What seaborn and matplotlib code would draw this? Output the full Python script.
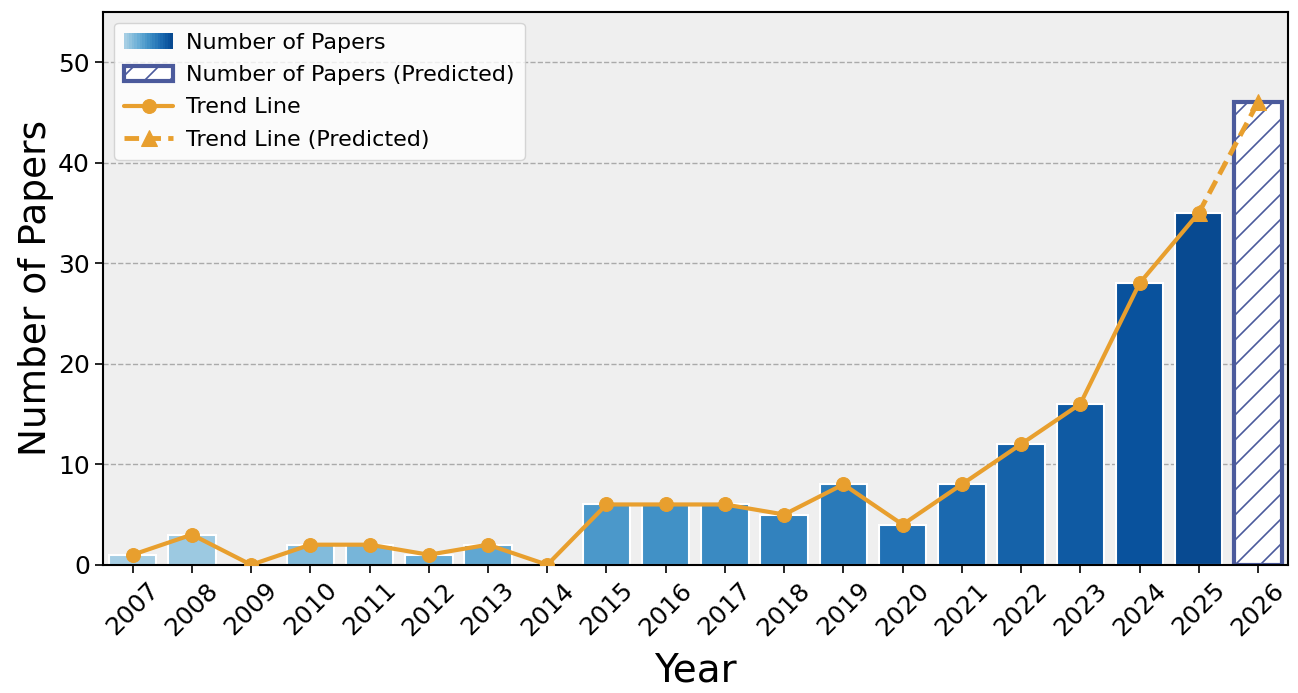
import numpy as np
import pandas as pd
import matplotlib
matplotlib.use("Agg")
import matplotlib.pyplot as plt
import seaborn as sns
from matplotlib.patches import Rectangle
from matplotlib.lines import Line2D
from matplotlib.legend_handler import HandlerBase

years = [str(y) for y in range(2007, 2026)]
papers = [1, 3, 0, 2, 2, 1, 2, 0, 6, 6, 6, 5, 8, 4, 8, 12, 16, 28, 35]
pred_year = "2026"
pred_value = 46

line_color = "#E89F2E"
pred_edge = "#4B5A9C"

DPI = 75
S = 100 / DPI  # point-size scale so the drawing matches a 100-dpi layout

sns.set_theme(style="ticks")
plt.rcParams['font.family'] = ['DejaVu Sans']
plt.rcParams['text.color'] = 'black'
plt.rcParams['hatch.color'] = pred_edge
plt.rcParams['hatch.linewidth'] = 1.2 * S

fig = plt.figure(figsize=(1298 / DPI, 693 / DPI), dpi=DPI)
ax = fig.add_axes([0.0794, 0.185, 0.9126, 0.798])
ax.set_facecolor("#EFEFEF")

cmap = plt.get_cmap("Blues")
colors = [cmap(v) for v in np.linspace(0.35, 0.9, len(years))]

all_years = years + [pred_year]
df = pd.DataFrame({"Year": years, "Papers": papers})
sns.barplot(data=df, x="Year", y="Papers", hue="Year", palette=colors, order=all_years,
            legend=False, width=0.8, edgecolor="white", linewidth=1.5 * S, saturation=1,
            ax=ax, zorder=2)

ax.bar([len(years)], [pred_value], width=0.8, facecolor="white", edgecolor=pred_edge,
       linewidth=3 * S, hatch="/", zorder=2)

x = np.arange(len(years))
ax.plot(x, papers, color=line_color, lw=3 * S, marker="o", ms=10 * S, zorder=4)
ax.plot([len(years) - 1, len(years)], [papers[-1], pred_value], color=line_color, lw=3.5 * S,
        ls=(0, (3, 1.5)), marker="^", ms=12 * S, zorder=4)

ax.set_xlim(-0.5, len(all_years) - 0.5)
ax.set_ylim(0, 55)
ax.set_yticks([0, 10, 20, 30, 40, 50])
ax.yaxis.grid(True, ls="--", color="#AAAAAA", lw=1 * S)
ax.set_axisbelow(True)
for s in ax.spines.values():
    s.set_color("black")
    s.set_linewidth(1.5 * S)
ax.tick_params(axis="both", labelsize=18 * S, color="black", width=1.2 * S, length=6 * S,
               pad=3.5 * S, labelcolor="black")
plt.setp(ax.get_xticklabels(), rotation=45, ha="center")
ax.set_xlabel("Year", fontsize=28 * S, color="black", labelpad=8 * S)
ax.set_ylabel("Number of Papers", fontsize=27 * S, color="black", labelpad=3 * S)


class GradientHandler(HandlerBase):
    def __init__(self, cols):
        super().__init__()
        self.cols = cols

    def create_artists(self, legend, orig_handle, xdescent, ydescent, width, height, fontsize, trans):
        n = len(self.cols)
        w = width / n
        arts = []
        for i, c in enumerate(self.cols):
            r = Rectangle((-xdescent + i * w, -ydescent), w, height, facecolor=c,
                          edgecolor="none", transform=trans)
            arts.append(r)
        return arts


grad_handle = Rectangle((0, 0), 1, 1)
pred_handle = Rectangle((0, 0), 1, 1, facecolor="white", edgecolor=pred_edge, lw=3 * S, hatch="/")
trend_handle = Line2D([], [], color=line_color, lw=3 * S, marker="o", ms=10 * S)
trend_pred_handle = Line2D([], [], color=line_color, lw=3.5 * S, ls=(0, (3, 1.5)), marker="^", ms=12 * S)

leg = ax.legend([grad_handle, pred_handle, trend_handle, trend_pred_handle],
                ["Number of Papers", "Number of Papers (Predicted)", "Trend Line", "Trend Line (Predicted)"],
                handler_map={grad_handle: GradientHandler(colors)},
                loc="upper left", fontsize=16 * S, frameon=True, fancybox=True, framealpha=0.8,
                borderpad=0.45, handlelength=2.2, handletextpad=0.6, labelspacing=0.55)
leg.get_frame().set_edgecolor("#CCCCCC")
leg.get_frame().set_linewidth(1 * S)

fig.savefig("out.png", dpi=DPI)
